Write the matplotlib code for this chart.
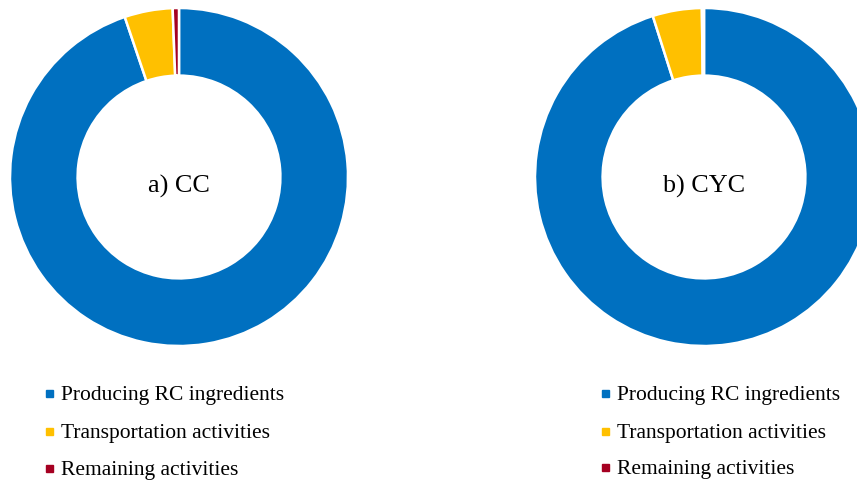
import matplotlib.pyplot as plt
from matplotlib.patches import Rectangle

# data
categories = ['Producing RC ingredients', 'Transportation activities', 'Remaining activities']
cc_values = [94.8, 4.6, 0.6]
cyc_values = [95.1, 4.7, 0.2]
titles = ['a) CC', 'b) CYC']
colors = ['#0070C0', '#FFC000', '#A50021']

W, H = 857, 484
fig = plt.figure(figsize=(W / 100, H / 100), dpi=100)
plt.rcParams['font.family'] = ['Liberation Serif', 'DejaVu Serif']

R = 169  # outer radius in px

def donut(cx, cy, values, title):
    ax = fig.add_axes([(cx - R) / W, (H - cy - R) / H, 2 * R / W, 2 * R / H])
    ax.pie(values, colors=colors, startangle=90, counterclock=False,
           radius=1, wedgeprops=dict(width=0.4, edgecolor='white', linewidth=1.8))
    ax.set_xlim(-1, 1)
    ax.set_ylim(-1, 1)
    ax.set_aspect('auto')
    ax.axis('off')
    ax.text(0, -0.055, title, ha='center', va='center', fontsize=18.8)

donut(179, 177, cc_values, titles[0])
donut(704, 177, cyc_values, titles[1])

# legends (manual)
def legend(x_marker, rows_y):
    for lab, col, y in zip(categories, colors, rows_y):
        fig.patches.append(Rectangle(((x_marker - 3.5) / W, (H - y - 3.5) / H), 7 / W, 7 / H,
                                     transform=fig.transFigure, color=col, figure=fig))
        fig.text((x_marker + 12) / W, (H - y) / H, lab, ha='left', va='center_baseline',
                 fontsize=15.5)

legend(49, [393, 431, 468])
legend(605, [393, 431, 467])

fig.savefig('out.png', dpi=100)
